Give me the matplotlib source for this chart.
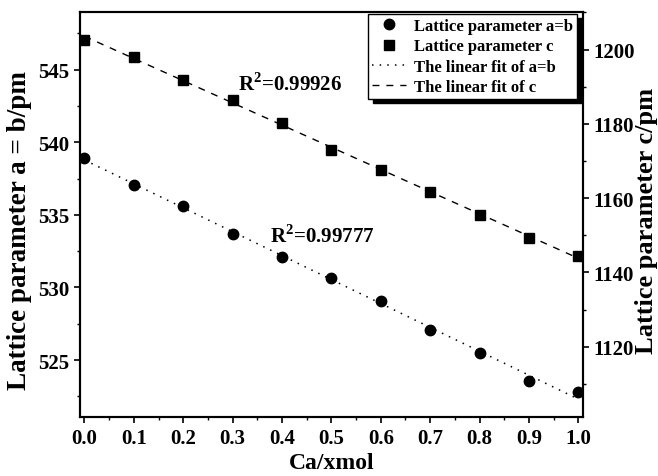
import numpy as np
import matplotlib
matplotlib.use('Agg')
import matplotlib.pyplot as plt
from matplotlib.ticker import MultipleLocator

plt.rcParams['font.family'] = 'Liberation Serif'
plt.rcParams['font.weight'] = 'bold'
plt.rcParams['mathtext.fontset'] = 'custom'
plt.rcParams['mathtext.rm'] = 'Liberation Serif:bold'
plt.rcParams['mathtext.bf'] = 'Liberation Serif:bold'

# data
ca = [0.0, 0.1, 0.2, 0.3, 0.4, 0.5, 0.6, 0.7, 0.8, 0.9, 1.0]
a_b = [538.91, 537.07, 535.62, 533.67, 532.08, 530.68, 529.07, 527.05, 525.48, 523.55, 522.81]
c = [1202.7, 1198.0, 1191.8, 1186.5, 1180.1, 1173.0, 1167.7, 1161.7, 1155.5, 1149.4, 1144.3]
r2_ab = '0.99777'
r2_c = '0.99926'

fig = plt.figure(figsize=(6.58, 4.77), dpi=100)
ax = fig.add_axes([0.1216, 0.123, 0.764, 0.8504])
ax2 = ax.twinx()

xs = np.array([0.0, 1.0])
p_ab = np.polyfit(ca, a_b, 1)
p_c = np.polyfit(ca, c, 1)

h1, = ax.plot(ca, a_b, 'o', color='k', ms=7.5, label='Lattice parameter a=b')
h3, = ax.plot(xs, np.polyval(p_ab, xs), color='k', lw=1.1, ls=(0, (1, 4)),
              label='The linear fit of a=b')
h2, = ax2.plot(ca, c, 's', color='k', ms=6.5, label='Lattice parameter c')
h4, = ax2.plot(xs, np.polyval(p_c, xs), color='k', lw=1.0, ls=(0, (5, 5)),
               label='The linear fit of c')

ax.set_xlim(-0.009, 1.009)
ax.set_ylim(521.05, 549.0)
ax2.set_ylim(1101, 1210.2)

ax.xaxis.set_major_locator(MultipleLocator(0.1))
ax.xaxis.set_minor_locator(MultipleLocator(0.05))
ax.yaxis.set_major_locator(MultipleLocator(5))
ax.yaxis.set_minor_locator(MultipleLocator(2.5))
ax2.yaxis.set_major_locator(MultipleLocator(20))
ax2.yaxis.set_minor_locator(MultipleLocator(10))
ax.xaxis.set_major_formatter(matplotlib.ticker.FormatStrFormatter('%.1f'))

for a_ in (ax, ax2):
    a_.tick_params(which='major', direction='out', length=4, width=1.2, labelsize=15)
    a_.tick_params(which='minor', direction='out', length=2.5, width=1.0)
    for s in a_.spines.values():
        s.set_linewidth(1.5)

ax.set_xlabel('Ca/xmol', fontsize=17, fontweight='bold', labelpad=3)
ax.set_ylabel('Lattice parameter a = b/pm', fontsize=19.5, fontweight='bold')
ax2.set_ylabel('Lattice parameter c/pm', fontsize=19, fontweight='bold')
ax.yaxis.set_label_coords(-0.0955, 0.462)
ax2.yaxis.set_label_coords(1.104, 0.4864)

ax.text(0.311, 544.03, r'R$^{2}$=' + r2_c, fontsize=15, va='center', ha='left')
ax.text(0.376, 533.6, r'R$^{2}$=' + r2_ab, fontsize=15, va='center', ha='left')

leg = ax2.legend([h1, h2, h3, h4], [h.get_label() for h in (h1, h2, h3, h4)],
                 loc='upper right', bbox_to_anchor=(0.989, 0.994), borderaxespad=0,
                 fancybox=False, edgecolor='k', framealpha=1,
                 shadow={'ox': 3.6, 'oy': -2.8, 'facecolor': 'k', 'edgecolor': 'k', 'alpha': 1},
                 prop={'size': 12, 'weight': 'bold'}, handlelength=2.0,
                 labelspacing=0.25, borderpad=0.25, handletextpad=0.5)
leg.get_frame().set_linewidth(1.0)

fig.savefig('out.png', dpi=100)
